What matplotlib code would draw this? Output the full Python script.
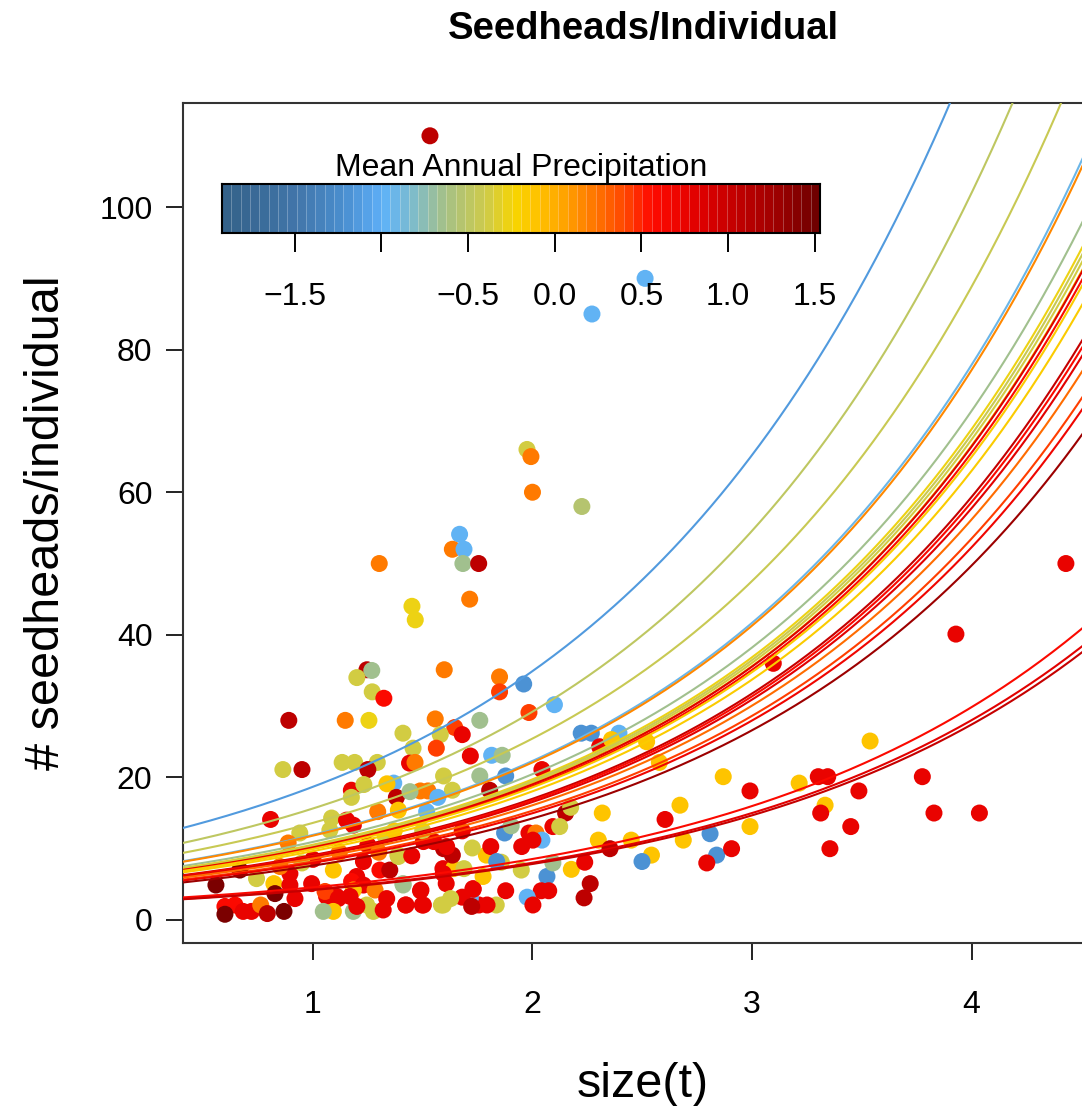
import numpy as np
import matplotlib
matplotlib.use("Agg")
import matplotlib.pyplot as plt
from matplotlib.colors import LinearSegmentedColormap, Normalize

plt.rcParams['font.family'] = ['Liberation Sans', 'DejaVu Sans']

# ---------------- data ----------------
# precipitation codes used for point colours
DR, R2, R, RB, OR, O, Y, YG, GG, LB, MB = 1.45, 1.05, 0.75, 0.58, 0.4, 0.2, -0.12, -0.40, -0.65, -0.95, -1.2

points = [
    (1.533, 110.0, R2), (2.513, 90.0, LB), (2.271, 85.0, LB), (1.975, 66.0, YG), (1.993, 65.0, O),
    (2.000, 60.0, O), (2.225, 58.0, -0.55), (4.430, 50.0, R), (1.302, 50.0, O), (1.668, 54.1, LB),
    (1.635, 52.0, O), (1.688, 52.0, LB), (1.683, 50.0, GG), (1.755, 50.0, R2), (1.714, 45.0, O),
    (1.451, 44.0, -0.3), (1.466, 42.1, -0.3), (1.246, 35.1, R2), (1.268, 35.0, GG), (1.200, 34.0, YG),
    (1.270, 32.0, YG), (1.323, 31.1, RB), (1.598, 35.1, O), (1.850, 34.1, O), (1.850, 32.0, OR),
    (1.960, 33.1, MB), (1.984, 29.1, OR), (2.100, 30.2, LB), (0.890, 28.0, R2), (1.147, 28.0, O),
    (1.255, 28.0, -0.3), (1.557, 28.2, O), (1.410, 26.2, YG), (1.760, 28.0, GG), (1.646, 27.0, OR),
    (1.680, 26.0, R), (1.580, 26.0, YG), (1.562, 24.1, OR), (1.456, 24.1, YG), (1.717, 23.0, R),
    (1.814, 23.1, LB), (1.862, 23.1, GG), (2.222, 26.2, MB), (2.268, 26.2, MB), (2.394, 26.2, LB),
    (2.306, 24.3, R), (2.360, 25.3, Y), (0.863, 21.1, YG), (0.950, 21.1, R2), (1.133, 22.1, YG),
    (1.190, 22.1, YG), (1.293, 22.1, YG), (1.250, 21.1, R2), (1.440, 22.0, R), (1.465, 22.1, O),
    (1.595, 20.2, YG), (1.760, 20.2, GG), (1.878, 20.2, MB), (2.043, 21.1, R), (1.805, 18.2, R2),
    (1.635, 18.2, YG), (1.489, 18.1, O), (1.524, 18.1, O), (1.569, 17.2, LB), (1.175, 18.2, R),
    (1.175, 17.2, YG), (1.232, 19.0, YG), (1.368, 19.2, LB), (1.337, 19.1, Y), (1.380, 17.2, R2),
    (0.807, 14.1, R), (0.940, 12.2, YG), (2.318, 15.0, Y), (2.151, 15.0, R2), (2.174, 15.8, YG),
    (2.093, 13.1, R), (2.124, 13.1, YG), (1.873, 12.2, MB), (1.903, 13.2, GG), (1.984, 12.2, R),
    (2.016, 12.2, O), (2.043, 11.2, LB), (1.951, 10.3, R), (2.002, 11.2, R), (2.300, 11.2, Y),
    (2.177, 7.1, Y), (2.238, 8.1, R), (2.263, 5.1, R2), (2.235, 3.1, R2), (2.066, 6.1, MB),
    (2.040, 4.1, R), (2.074, 4.1, R), (1.976, 3.2, LB), (2.002, 2.1, R), (2.093, 8.0, GG),
    (1.949, 7.0, YG), (1.878, 4.1, R), (1.835, 2.1, YG), (1.793, 2.1, R), (1.756, 2.1, R),
    (1.729, 4.4, R), (1.717, 3.1, LB), (1.680, 3.2, R), (1.858, 8.1, YG), (1.790, 9.1, Y),
    (1.726, 10.1, YG), (1.810, 10.3, R), (1.607, 5.1, R), (1.592, 7.2, R), (1.641, 7.2, Y),
    (1.688, 7.2, YG), (1.775, 6.1, Y), (1.585, 2.1, YG), (1.627, 3.0, YG), (1.410, 5.1, GG),
    (1.387, 9.1, YG), (1.490, 4.1, R), (1.498, 2.1, R), (1.422, 2.1, R), (1.595, 10.0, R2),
    (1.635, 9.1, R2), (1.389, 15.4, Y), (1.295, 15.2, O), (1.442, 18.0, GG), (1.518, 15.2, LB),
    (1.085, 14.3, YG), (1.153, 14.0, R), (1.184, 13.3, R), (1.077, 12.6, YG), (0.887, 10.8, O),
    (0.558, 4.9, DR), (0.743, 5.8, YG), (0.822, 5.1, Y), (0.827, 3.7, DR), (0.895, 4.9, R),
    (0.895, 6.5, R), (0.918, 3.0, R), (0.994, 5.1, R), (0.599, 1.9, RB), (0.645, 2.1, RB),
    (0.599, 0.8, DR), (0.682, 1.2, R), (0.720, 1.2, R), (0.762, 2.1, O), (0.792, 0.9, R2),
    (0.868, 1.2, DR), (1.062, 3.3, R), (1.108, 3.3, R), (1.055, 4.0, OR), (1.230, 8.2, R),
    (1.305, 7.0, RB), (1.350, 7.0, R2), (1.093, 7.0, Y), (1.389, 8.9, YG), (1.199, 6.1, R),
    (1.176, 5.4, RB), (1.230, 4.9, R), (1.184, 4.2, Y), (1.283, 4.2, O), (1.336, 3.0, R),
    (1.115, 3.0, R), (1.093, 1.2, Y), (1.047, 1.2, GG), (1.184, 1.2, GG), (1.169, 3.3, R),
    (1.245, 2.1, YG), (1.275, 1.2, YG), (1.200, 1.9, R), (1.320, 1.4, R), (1.411, 4.9, GG),
    (1.424, 2.1, R), (1.503, 2.1, R), (1.492, 4.2, R), (1.594, 2.1, YG), (1.594, 6.5, R),
    (1.609, 10.3, R), (1.503, 11.0, R), (2.520, 25.0, Y), (2.578, 22.1, Y), (2.604, 14.1, R),
    (2.672, 16.1, Y), (2.353, 10.0, R2), (2.450, 11.2, Y), (2.542, 9.1, Y), (2.499, 8.2, MB),
    (2.687, 11.2, Y), (1.837, 8.2, MB), (1.730, 4.3, R), (1.723, 1.9, R2), (1.680, 12.5, R),
    (3.929, 40.1, R), (3.097, 36.0, R), (3.538, 25.1, Y), (2.869, 20.1, Y), (2.991, 18.1, R),
    (3.215, 19.2, Y), (3.302, 20.1, R), (3.345, 20.1, R), (3.487, 18.1, R), (3.776, 20.1, R),
    (3.333, 16.1, Y), (3.313, 15.0, R), (3.829, 15.0, R), (4.036, 15.0, R), (3.450, 13.1, R),
    (3.355, 10.0, R), (2.991, 13.1, Y), (2.809, 12.1, MB), (2.839, 9.1, MB), (2.907, 10.0, R),
    (2.794, 8.0, R), (0.667, 7.0, DR), (1.33, 11.7, YG), (1.37, 12.5, Y), (1.25, 10.5, R),
    (1.30, 9.5, O), (1.45, 9.0, R), (1.55, 11.0, R), (1.50, 12.5, YG), (1.12, 9.5, O),
    (1.00, 8.5, R), (0.95, 8.0, YG), (0.85, 7.5, O),
]
size_t = [p[0] for p in points]
seedheads = [p[1] for p in points]
point_precip = [p[2] for p in points]

# fitted curves: seedheads = intercept * exp(growth_rate * size)
growth_rate = 0.625
curve_intercept = [10.0, 8.37, 7.29, 6.39, 6.33, 5.86, 5.65, 5.59, 5.53, 5.46, 5.45, 5.38,
                   5.33, 5.17, 4.87, 4.81, 4.74, 4.61, 4.39, 4.29, 4.08, 2.45, 2.30, 2.25]
curve_precip = [-1.15, -0.5, -0.42, -0.92, 0.15, -0.65, -0.3, -0.45, -0.38, -0.22, 0.85, 0.6,
                -0.18, -0.15, 1.0, 0.6, 0.8, 0.25, 0.42, 0.7, 1.3, 0.6, 0.8, 1.0]

cbar_ticks = [-1.5, -1.0, -0.5, 0.0, 0.5, 1.0, 1.5]
cbar_labels = ['\u22121.5', '', '\u22120.5', '0.0', '0.5', '1.0', '1.5']
x_ticks = [1, 2, 3, 4]
y_ticks = [0, 20, 40, 60, 80, 100]

# ---------------- colour scale ----------------
pmin, pmax = -1.92, 1.53
stops = [(-1.92, '#34628a'), (-1.505, '#4276aa'), (-1.23, '#4a8fd0'), (-1.055, '#5aa8f0'),
         (-0.98, '#62b4f5'), (-0.82, '#80bcc8'), (-0.645, '#a4c088'), (-0.40, '#cfcb48'),
         (-0.23, '#f8d400'), (-0.085, '#ffc000'), (0.047, '#ffa500'), (0.255, '#ff7000'),
         (0.43, '#ff4000'), (0.565, '#ff0a00'), (0.84, '#e00000'), (1.045, '#c40000'),
         (1.29, '#a00000'), (1.53, '#700000')]
cmap = LinearSegmentedColormap.from_list(
    'precip', [((v - pmin) / (pmax - pmin), c) for v, c in stops]).resampled(64)
norm = Normalize(pmin, pmax)

# ---------------- figure ----------------
W, H = 1082, 1106
fig = plt.figure(figsize=(W / 100, H / 100), dpi=100)
ax = fig.add_axes([183 / W, 163 / H, 920 / W, 840 / H])

ax.scatter(size_t, seedheads, c=point_precip, cmap=cmap, norm=norm, s=150,
           linewidths=0, zorder=2)

xs = np.linspace(0.3, 4.7, 400)
for a, p in zip(curve_intercept, curve_precip):
    ax.plot(xs, a * np.exp(growth_rate * xs), color=cmap(norm(p)), lw=1.5, zorder=3)

ax.set_xlim(0.408, 4.599)
ax.set_ylim(-3.23, 114.6)
ax.set_xticks(x_ticks)
ax.set_yticks(y_ticks)
ax.tick_params(axis='both', length=12, width=1.4, labelsize=23, color='#222222')
ax.tick_params(axis='x', pad=22)
ax.tick_params(axis='y', pad=10)
for sp in ax.spines.values():
    sp.set_linewidth(1.5)
    sp.set_color('#333333')

ax.set_xlabel('size(t)', fontsize=35, labelpad=30)
ax.set_ylabel('# seedheads/individual', fontsize=35, labelpad=22)
fig.text(643 / W, 1 - 29 / H, 'Seedheads/Individual', fontsize=27.5, fontweight='bold',
         ha='center', va='center')

# ---------------- colour bar inset ----------------
cax = fig.add_axes([222 / W, (H - 233) / H, 598 / W, 49 / H])
grid = np.linspace(pmin, pmax, 65)
cax.pcolormesh(grid, [0, 1], ((grid[:-1] + grid[1:]) / 2)[None, :], cmap=cmap, norm=norm)
for g in grid[1:-1]:
    cax.axvline(g, color='white', lw=0.6, alpha=0.3)
cax.set_xlim(pmin, pmax)
cax.set_ylim(0, 1)
cax.set_yticks([])
cax.set_xticks(cbar_ticks)
cax.set_xticklabels(cbar_labels)
cax.tick_params(axis='x', length=14, width=1.4, labelsize=23, pad=21)
for sp in cax.spines.values():
    sp.set_linewidth(1.5)
cax.text(0.5, 1.16, 'Mean Annual Precipitation', transform=cax.transAxes,
         ha='center', va='baseline', fontsize=23)

fig.savefig('out.png', dpi=100)
